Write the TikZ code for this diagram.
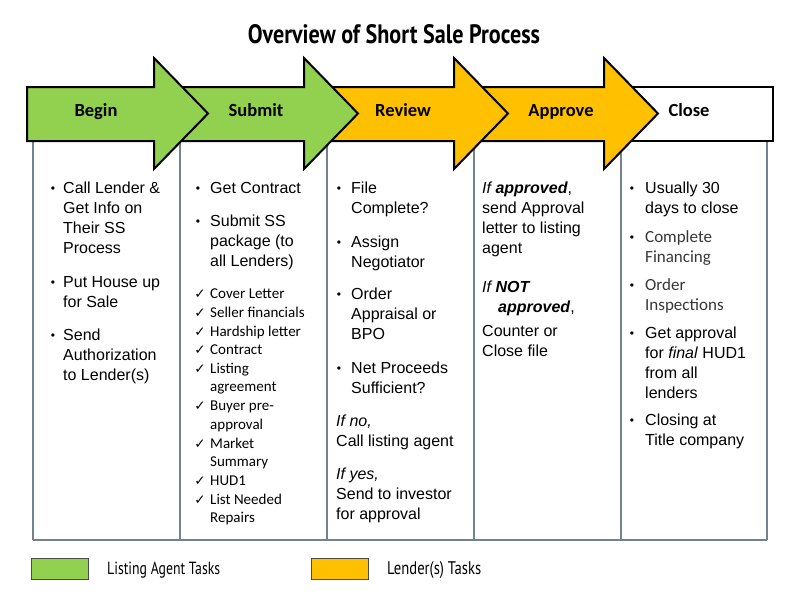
\documentclass[tikz,border=0pt]{standalone}
\usepackage{fontspec}
\setmainfont{Liberation Sans}
\newfontfamily\carl{Carlito}
\newfontfamily\djv{DejaVu Sans}
\newfontfamily\hand{PT Sans}
\definecolor{lgreen}{RGB}{146,208,80}
\definecolor{lyellow}{RGB}{255,192,0}
\definecolor{gridc}{RGB}{115,130,145}
\definecolor{softgray}{RGB}{55,55,55}
\newcommand\ml[2]{\vtop{\baselineskip=#1\lineskiplimit=-20pt\lineskip=0pt\halign{##\hfil\cr#2\crcr}}}
\tikzset{
  arrowbox/.style={draw=black, line width=2pt, line join=miter},
  tbl/.style={draw=gridc, line width=1.2pt},
  lab/.style={anchor=base, inner sep=0pt, font=\carl\bfseries\fontsize{18.5}{20}\selectfont},
  body/.style={anchor=base west, inner sep=0pt, font=\fontsize{16}{20}\selectfont},
  chk/.style={anchor=base west, inner sep=0pt, font=\carl\fontsize{15}{18.7}\selectfont},
  soft/.style={anchor=base west, inner sep=0pt, text=softgray, font=\carl\fontsize{17}{20}\selectfont},
  bul/.style={anchor=base, inner sep=0pt, font=\fontsize{12}{12}\selectfont},
  tick/.style={anchor=base, inner sep=0pt, font=\djv\fontsize{13.5}{14}\selectfont},
  legbox/.style={draw=black!70, line width=0.9pt},
  legtxt/.style={anchor=base west, inner sep=0pt, font=\hand},
}
\begin{document}
\begin{tikzpicture}[x=1pt,y=-1pt]
\useasboundingbox (0,0) rectangle (800,600);
\fill[white] (0,0) rectangle (800,600);

% title
\node[anchor=base, inner sep=0pt, font=\hand\bfseries] (title) at (394,43) {\resizebox{292pt}{19pt}{Overview of Short Sale Process}};

% table
\foreach \x in {33,180,327,474,621,767} \draw[tbl] (\x,130) -- (\x,540);
\draw[tbl] (33,540) -- (767,540);

% arrows (back to front)
\path[arrowbox, fill=white] (627,87) rectangle (773,141);
\path[arrowbox, fill=lyellow] (477,87) -- (604,87) -- (604,58) -- (658,113.5) -- (604,169) -- (604,141) -- (477,141) -- cycle;
\path[arrowbox, fill=lyellow] (327,87) -- (454,87) -- (454,58) -- (508,113.5) -- (454,169) -- (454,141) -- (327,141) -- cycle;
\path[arrowbox, fill=lgreen] (177,87) -- (304,87) -- (304,58) -- (358,113.5) -- (304,169) -- (304,141) -- (177,141) -- cycle;
\path[arrowbox, fill=lgreen] (27,87) -- (154,87) -- (154,58) -- (208,113.5) -- (154,169) -- (154,141) -- (27,141) -- cycle;

\node[lab] (lbegin) at (96,116) {Begin};
\node[lab] (lsubmit) at (256,116) {Submit};
\node[lab] (lreview) at (403,116) {Review};
\node[lab] (lapprove) at (561,116) {Approve};
\node[lab] (lclose) at (689,116) {Close};

% column 1
\node[bul] (b1a) at (53,192) {•};
\node[body] (t1a) at (63,193) {\ml{20pt}{Call Lender \&\cr Get Info on\cr Their SS\cr Process}};
\node[bul] (b1b) at (53,286) {•};
\node[body] (t1b) at (63,287) {\ml{20pt}{Put House up\cr for Sale}};
\node[bul] (b1c) at (53,339) {•};
\node[body] (t1c) at (63,340) {\ml{20pt}{Send\cr Authorization\cr to Lender(s)}};

% column 2
\node[bul] (b2a) at (198,192) {•};
\node[body] (t2a) at (210,193) {Get Contract};
\node[bul] (b2b) at (198,225) {•};
\node[body] (t2b) at (210,226) {\ml{20pt}{Submit SS\cr package (to\cr all Lenders)}};
\node[tick] (k1) at (200,298) {✓};
\node[chk] (s1) at (210,298) {Cover Letter};
\node[tick] (k2) at (200,317) {✓};
\node[chk] (s2) at (210,317) {Seller financials};
\node[tick] (k3) at (200,336) {✓};
\node[chk] (s3) at (210,336) {Hardship letter};
\node[tick] (k4) at (200,354.5) {✓};
\node[chk] (s4) at (210,354.5) {Contract};
\node[tick] (k5) at (200,373) {✓};
\node[chk] (s5) at (210,373) {\ml{18.7pt}{Listing\cr agreement}};
\node[tick] (k6) at (200,410.5) {✓};
\node[chk] (s6) at (210,410.5) {\ml{18.7pt}{Buyer pre-\cr approval}};
\node[tick] (k7) at (200,448) {✓};
\node[chk] (s7) at (210,448) {\ml{18.7pt}{Market\cr Summary}};
\node[tick] (k8) at (200,485) {✓};
\node[chk] (s8) at (210,485) {HUD1};
\node[tick] (k9) at (200,504) {✓};
\node[chk] (s9) at (210,504) {\ml{18.7pt}{List Needed\cr Repairs}};

% column 3
\node[bul] (b3a) at (339,192) {•};
\node[body] (t3a) at (351,193) {\ml{20pt}{File\cr Complete?}};
\node[bul] (b3b) at (339,246) {•};
\node[body] (t3b) at (351,247) {\ml{20pt}{Assign\cr Negotiator}};
\node[bul] (b3c) at (339,298) {•};
\node[body] (t3c) at (351,299) {\ml{20pt}{Order\cr Appraisal or\cr BPO}};
\node[bul] (b3d) at (339,372) {•};
\node[body] (t3d) at (351,373) {\ml{20pt}{Net Proceeds\cr Sufficient?}};
\node[body] (t3e) at (336,426) {\ml{20pt}{\textit{If no,}\cr Call listing agent}};
\node[body] (t3f) at (336,479) {\ml{20pt}{\textit{If yes,}\cr Send to investor\cr for approval}};

% column 4
\node[body] (t4a) at (482,193) {\ml{20pt}{\textit{If \textbf{approved}},\cr send Approval\cr letter to listing\cr agent}};
\node[body] (t4b) at (482,292) {\ml{20pt}{\textit{If \textbf{NOT}}\cr \hspace{16pt}\textbf{\textit{approved}},}};
\node[body] (t4c) at (482,336) {\ml{20pt}{Counter or\cr Close file}};

% column 5
\node[bul] (b5a) at (632,192) {•};
\node[body] (t5a) at (645,193) {\ml{20pt}{Usually 30\cr days to close}};
\node[bul] (b5b) at (632,241) {•};
\node[soft] (t5b) at (645,242) {\ml{20.5pt}{Complete\cr Financing}};
\node[bul] (b5c) at (632,289) {•};
\node[soft] (t5c) at (645,290) {\ml{20.5pt}{Order\cr Inspections}};
\node[bul] (b5d) at (632,337) {•};
\node[body] (t5d) at (645,338) {\ml{20pt}{Get approval\cr for \textit{final} HUD1\cr from all\cr lenders}};
\node[bul] (b5e) at (632,424) {•};
\node[body] (t5e) at (645,425) {\ml{20pt}{Closing at\cr Title company}};

% legend
\path[legbox, fill=lgreen] (31,558) rectangle (88,579);
\node[legtxt] (leg1) at (107,574) {\resizebox{113pt}{12.5pt}{Listing Agent Tasks}};
\path[legbox, fill=lyellow] (311,558) rectangle (368,579);
\node[legtxt] (leg2) at (387,574) {\resizebox{94pt}{13pt}{Lender(s) Tasks}};
\end{tikzpicture}
\end{document}
